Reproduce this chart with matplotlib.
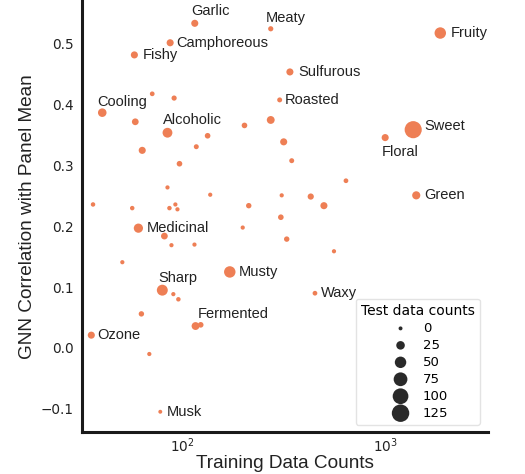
import numpy as np
import matplotlib
matplotlib.use("Agg")
import matplotlib.pyplot as plt

# training counts, correlation with panel mean, test counts
train_counts = [115, 272, 87, 58, 338, 71, 91, 301, 40.3, 58.6,
                84.4, 202, 272, 133, 63.4, 117, 315, 96.7, 345, 84.4,
                137, 308, 428, 497, 36.3, 56.6, 86.3, 92.3, 94.5, 212,
                305, 1858, 1367, 995, 638, 1415, 60.7, 81.5, 88.3, 114.6,
                198, 326, 50.6, 171, 79.6, 90.2, 95.5, 449, 62.8, 116,
                123, 35.6, 68.7, 77.8, 557]
corr = [0.534, 0.525, 0.502, 0.482, 0.454, 0.418, 0.411, 0.408, 0.387, 0.372,
        0.354, 0.366, 0.375, 0.349, 0.325, 0.331, 0.339, 0.303, 0.308, 0.264,
        0.252, 0.251, 0.249, 0.234, 0.236, 0.230, 0.230, 0.236, 0.228, 0.234,
        0.215, 0.518, 0.359, 0.346, 0.275, 0.251, 0.197, 0.184, 0.169, 0.170,
        0.198, 0.179, 0.141, 0.125, 0.095, 0.0885, 0.080, 0.090, 0.056, 0.036,
        0.038, 0.021, -0.010, -0.105, 0.159]
test_counts = [15, 5, 15, 15, 15, 3, 5, 4, 25, 13,
               35, 7, 20, 7, 15, 4, 15, 7, 4, 1,
               1, 1, 10, 15, 2, 2, 2, 1, 1, 6,
               7, 50, 120, 15, 3, 22, 30, 13, 1, 1,
               1, 6, 1, 50, 45, 1, 2, 3, 6, 20,
               7, 15, 1, 0, 1]
names = ["Garlic", "Meaty", "Camphoreous", "Fishy", "Sulfurous", "", "", "Roasted", "Cooling", "",
         "Alcoholic", "", "", "", "", "", "", "", "", "",
         "", "", "", "", "", "", "", "", "", "",
         "", "Fruity", "Sweet", "Floral", "", "Green", "Medicinal", "", "", "",
         "", "", "", "Musty", "Sharp", "", "", "Waxy", "", "Fermented",
         "", "Ozone", "", "Musk", ""]

legend_counts = [0, 25, 50, 75, 100, 125]

# label offsets in pixels (left edge of text relative to point)
label_off = {
    "Garlic": (-4, 12), "Meaty": (-5, 11), "Camphoreous": (6, 0), "Fishy": (8, 0),
    "Sulfurous": (8, 0), "Roasted": (5, 0), "Cooling": (-5, 11), "Alcoholic": (-5, 13),
    "Fruity": (10, 0), "Sweet": (11, 4), "Floral": (-3, -14), "Green": (8, 0),
    "Medicinal": (8, 0), "Musty": (9, 0), "Sharp": (-4, 12), "Waxy": (6, 0),
    "Fermented": (2, 12), "Ozone": (6, 0), "Musk": (6, 0),
}

color = "#EE7F55"
label_font = ["Liberation Sans", "DejaVu Sans"]


def size_of(c):
    return 8 + 1.2 * np.asarray(c, dtype=float)


fig = plt.figure(figsize=(5.25, 4.74), dpi=100)
ax = fig.add_axes([0.156, 0.089, 0.774, 0.908])

ax.scatter(train_counts, corr, s=size_of(test_counts), color=color,
           edgecolors="none", zorder=3)

for x, y, n in zip(train_counts, corr, names):
    if not n:
        continue
    dx, dy = label_off[n]
    ax.annotate(n, (x, y), xytext=(dx, dy), textcoords="offset pixels",
                ha="left", va="center", fontsize=10.5, color="#222222",
                family=label_font)

ax.set_xscale("log")
ax.set_xlim(32, 3200)
ax.set_ylim(-0.138, 0.57)
ax.set_yticks([-0.1, 0.0, 0.1, 0.2, 0.3, 0.4, 0.5])
ax.tick_params(length=0, labelsize=9.8, colors="#222222")
ax.tick_params(axis="y", pad=6)
ax.tick_params(axis="x", pad=3)
ax.tick_params(axis="x", which="minor", length=0)

for side in ["top", "right"]:
    ax.spines[side].set_visible(False)
for side in ["left", "bottom"]:
    ax.spines[side].set_linewidth(2.2)
    ax.spines[side].set_color("#1a1a1a")

ax.set_xlabel("Training Data Counts", fontsize=13.7, family=label_font,
              color="#222222", labelpad=0)
ax.set_ylabel("GNN Correlation with Panel Mean", fontsize=13.7, family=label_font,
              color="#222222", labelpad=3)

handles = [ax.scatter([], [], s=size_of(c), color="#2a2a2a", edgecolors="none")
           for c in legend_counts]
leg = ax.legend(handles, [str(c) for c in legend_counts], title="Test data counts",
                loc="lower right", bbox_to_anchor=(0.980, 0.016), borderaxespad=0,
                fontsize=9.5, title_fontsize=10, frameon=True, fancybox=True,
                handletextpad=0.7, labelspacing=0.3, borderpad=0.4)
leg.get_frame().set_edgecolor("#dddddd")

fig.savefig("out.png", dpi=100)
